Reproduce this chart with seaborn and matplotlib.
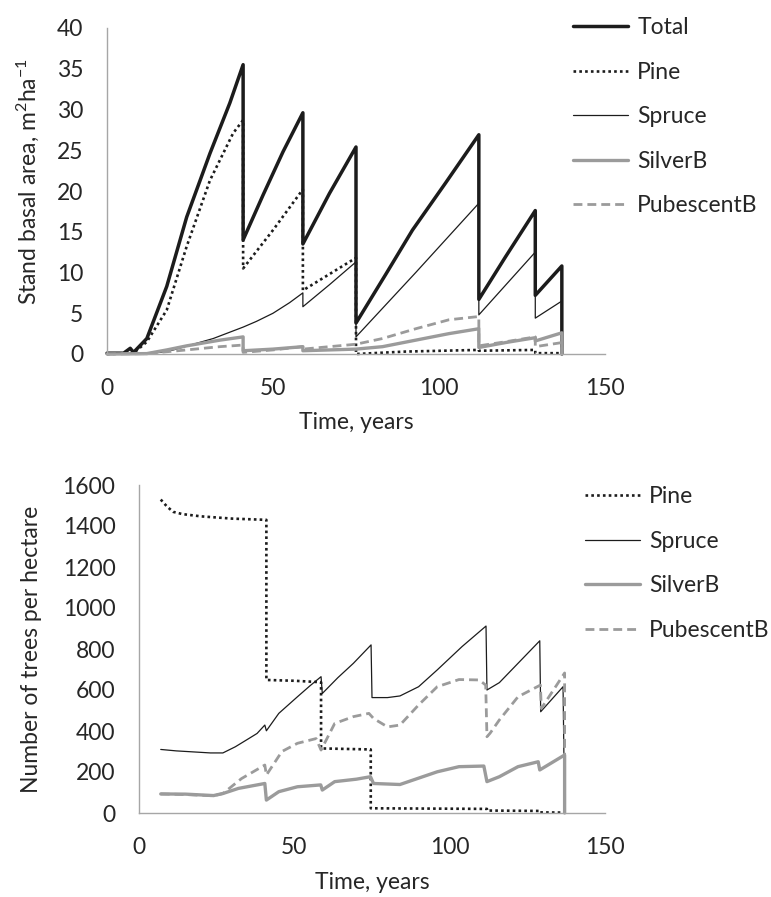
import matplotlib
matplotlib.use("Agg")
import matplotlib.pyplot as plt
import pandas as pd
import seaborn as sns

# ---------------- data: stand basal area (m2/ha) ----------------
ba_total_t = [0, 5, 7, 8, 12, 18, 24, 31, 37, 41, 41, 47, 53, 59, 59, 67, 75, 75, 84, 92, 102, 112, 112, 120, 129, 129, 133, 137, 137]
ba_total_v = [0.1, 0.1, 0.7, 0.2, 1.9, 8.3, 16.8, 24.6, 30.8, 35.5, 14.0, 19.5, 24.8, 29.6, 13.5, 19.7, 25.4, 3.8, 9.8, 15.2, 21.0, 26.9, 6.7, 11.9, 17.6, 7.2, 9.0, 10.8, 0.0]

ba_pine_t = [0, 8, 12, 18, 24, 31, 38, 41, 41, 50, 59, 59, 67, 75, 75, 90, 112, 112, 129, 129, 137, 137]
ba_pine_v = [0.0, 0.1, 1.5, 5.4, 13.2, 21.3, 27.1, 28.7, 10.5, 15.2, 20.2, 7.8, 9.8, 11.8, 0.0, 0.3, 0.5, 0.4, 0.5, 0.1, 0.1, 0.0]

ba_spruce_t = [0, 12, 16, 20, 26, 32, 41, 45, 50, 55, 59, 59, 67, 75, 75, 93, 112, 112, 129, 129, 137, 137]
ba_spruce_v = [0.0, 0.05, 0.2, 0.5, 1.2, 1.9, 3.3, 4.0, 5.0, 6.3, 7.5, 5.8, 8.5, 11.3, 2.1, 10.0, 18.5, 4.8, 12.5, 4.4, 6.5, 0.0]

ba_silver_t = [0, 12, 18, 24, 34, 41, 41, 50, 59, 59, 75, 83, 93, 103, 112, 112, 120, 129, 129, 137, 137]
ba_silver_v = [0.0, 0.05, 0.5, 1.0, 1.7, 2.1, 0.4, 0.6, 0.9, 0.4, 0.6, 0.9, 1.7, 2.5, 3.1, 0.8, 1.4, 2.0, 1.6, 2.6, 0.0]

ba_pub_t = [0, 12, 24, 34, 41, 41, 50, 59, 59, 75, 83, 93, 103, 112, 112, 120, 129, 129, 137, 137]
ba_pub_v = [0.0, 0.05, 0.5, 0.9, 1.1, 0.2, 0.5, 0.9, 0.6, 1.2, 1.9, 3.1, 4.2, 4.6, 1.0, 1.5, 2.1, 0.9, 1.4, 0.0]

# ---------------- data: number of trees per hectare ----------------
n_pine_t = [7, 9, 11, 14, 20, 30, 41, 41, 50, 58.6, 58.6, 74.6, 74.6, 112, 112, 129, 129, 137, 137]
n_pine_v = [1529, 1495, 1469, 1458, 1447, 1436, 1430, 649, 645, 638, 315, 310, 23, 20, 12, 10, 3, 2, 0]

n_spruce_t = [7, 12, 23, 27, 31, 35, 38, 40.5, 41, 45, 51, 55, 58.6, 59, 64, 69, 74.7, 75, 80, 84, 90, 96, 104, 111.7, 112, 116, 129, 129.3, 136.5, 137]
n_spruce_v = [310, 303, 293, 293, 323, 360, 388, 429, 401, 486, 567, 620, 665, 583, 660, 730, 820, 563, 563, 571, 616, 698, 812, 912, 600, 636, 840, 494, 616, 0]

n_silver_t = [7, 15, 24, 27, 32, 40.5, 41, 45, 51, 58.5, 59, 63, 70, 74.5, 75.5, 84, 96, 103, 111, 112, 116, 122, 128.5, 129, 137, 137]
n_silver_v = [93, 92, 85, 95, 120, 144, 63, 104, 128, 137, 112, 153, 165, 177, 144, 139, 201, 226, 229, 153, 177, 226, 250, 210, 283, 0]

n_pub_t = [7, 15, 24, 27, 33, 40.5, 41, 46, 51, 57, 58.6, 63, 69, 74, 75.5, 80, 84, 90, 96, 103, 109.5, 111.6, 112, 113, 116, 122, 129.2, 129.5, 137, 137]
n_pub_v = [93, 90, 84, 95, 168, 234, 185, 300, 340, 363, 307, 437, 470, 486, 461, 420, 429, 527, 616, 651, 649, 624, 372, 389, 454, 567, 624, 510, 683, 0]

x_ticks = [0, 50, 100, 150]
ba_ticks = [0, 5, 10, 15, 20, 25, 30, 35, 40]
n_ticks = [0, 200, 400, 600, 800, 1000, 1200, 1400, 1600]

# ---------------- style ----------------
sns.set_theme(style="white")
plt.rcParams["font.family"] = ["Lato", "DejaVu Sans"]
plt.rcParams["mathtext.fontset"] = "custom"
plt.rcParams["mathtext.rm"] = "Lato"
plt.rcParams["mathtext.it"] = "Lato:italic"
plt.rcParams["mathtext.bf"] = "Lato:bold"

TXT = "#262626"
BLACK = "#1c1c1c"
GRAY = "#9b9b9b"
SPINE = "#a6a6a6"
FS = 16.5

styles = {
    "Total": dict(color=BLACK, lw=2.5, ls="-"),
    "Pine": dict(color=BLACK, lw=1.9, ls=(0, (1, 1.2))),
    "Spruce": dict(color=BLACK, lw=0.9, ls="-"),
    "SilverB": dict(color=GRAY, lw=2.4, ls="-"),
    "PubescentB": dict(color=GRAY, lw=2.0, ls=(0, (3.2, 1.8))),
}

fig = plt.figure(figsize=(7.71, 8.97), dpi=100)
W, H = 771, 897


def add_axes(l, r, t, b):
    return fig.add_axes([l / W, 1 - b / H, (r - l) / W, (b - t) / H])


def draw(ax, name, t, v):
    df = pd.DataFrame({"t": t, "v": v})
    st = styles[name]
    sns.lineplot(data=df, x="t", y="v", ax=ax, estimator=None, sort=False,
                 color=st["color"], linewidth=st["lw"], linestyle=st["ls"],
                 label=name, clip_on=False)


def style_axes(ax, yticks, ylim):
    ax.set_xlim(0, 150)
    ax.set_ylim(*ylim)
    ax.set_xticks(x_ticks)
    ax.set_yticks(yticks)
    for s in ["top", "right"]:
        ax.spines[s].set_visible(False)
    for s in ["left", "bottom"]:
        ax.spines[s].set_color(SPINE)
        ax.spines[s].set_linewidth(1.0)
    ax.tick_params(axis="both", length=0, pad=17, labelsize=FS, labelcolor=TXT)
    ax.set_facecolor("none")


# ---------- top chart ----------
ax1 = add_axes(107, 605, 28, 354)
draw(ax1, "Total", ba_total_t, ba_total_v)
draw(ax1, "Pine", ba_pine_t, ba_pine_v)
draw(ax1, "Spruce", ba_spruce_t, ba_spruce_v)
draw(ax1, "SilverB", ba_silver_t, ba_silver_v)
draw(ax1, "PubescentB", ba_pub_t, ba_pub_v)
style_axes(ax1, ba_ticks, (0, 40))
ax1.set_xlabel("Time, years", fontsize=FS, color=TXT)
ax1.set_ylabel("Stand basal area, m$^{2}$ha$^{-1}$", fontsize=FS, color=TXT)
ax1.xaxis.set_label_coords(0.5, -0.178)
ax1.yaxis.set_label_coords(-0.133, 0.53)
ax1.legend(loc="upper left", bbox_to_anchor=(573 / W, 1 - 17 / H),
           bbox_transform=fig.transFigure, frameon=False, fontsize=FS,
           handlelength=2.4, handletextpad=0.4, labelspacing=1.03,
           borderpad=0, borderaxespad=0, labelcolor=TXT)

# ---------- bottom chart ----------
ax2 = add_axes(139, 605, 485, 813)
draw(ax2, "Pine", n_pine_t, n_pine_v)
draw(ax2, "Spruce", n_spruce_t, n_spruce_v)
draw(ax2, "SilverB", n_silver_t, n_silver_v)
draw(ax2, "PubescentB", n_pub_t, n_pub_v)
style_axes(ax2, n_ticks, (0, 1600))
ax2.set_xlabel("Time, years", fontsize=FS, color=TXT)
ax2.set_ylabel("Number of trees per hectare", fontsize=FS, color=TXT)
ax2.xaxis.set_label_coords(0.5, -0.18)
ax2.yaxis.set_label_coords(-0.208, 0.5)
ax2.legend(loc="upper left", bbox_to_anchor=(585 / W, 1 - 486 / H),
           bbox_transform=fig.transFigure, frameon=False, fontsize=FS,
           handlelength=2.4, handletextpad=0.4, labelspacing=1.03,
           borderpad=0, borderaxespad=0, labelcolor=TXT)

fig.savefig("out.png", dpi=100, facecolor="white")
